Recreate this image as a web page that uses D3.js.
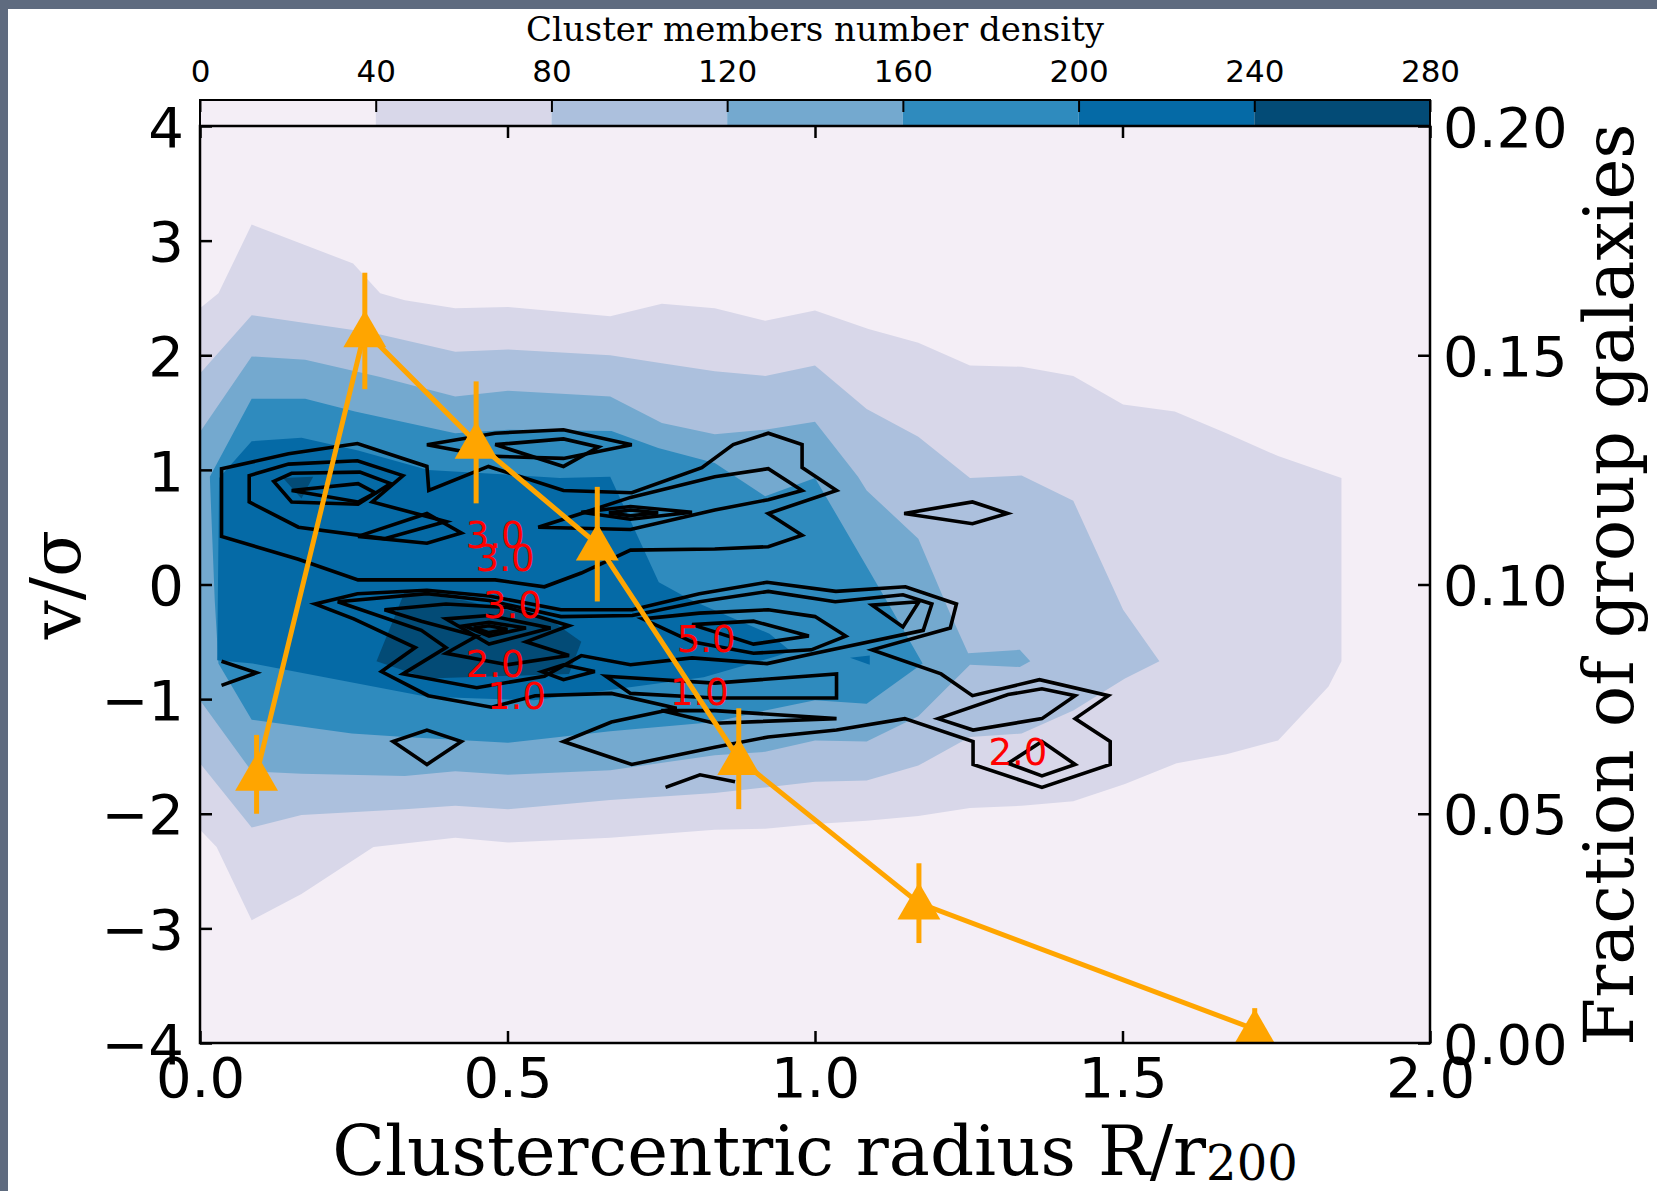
<!DOCTYPE html>
<html>
<head>
<meta charset="utf-8">
<script src="https://cdn.jsdelivr.net/npm/d3@7"></script>
<style>
  body { margin: 0; background: #fff; }
  svg { display: block; }
</style>
</head>
<body>
<div id="graf"></div>
<script>
// I. Datos
levels = [0, 40, 80, 120, 160, 200, 240, 280]
xTicks = [0, 0.5, 1, 1.5, 2]
yTicks = [-4, -3, -2, -1, 0, 1, 2, 3, 4]
fracTicks = [0, 0.05, 0.10, 0.15, 0.20]

// fraccion de galaxias de grupo (eje derecho)
radius   = [0.092, 0.268, 0.449, 0.646, 0.876, 1.169, 1.715]
fraction = [0.0586, 0.1553, 0.1310, 0.1088, 0.0620, 0.0305, 0.0030]
fracErr  = [0.0086, 0.0127, 0.0133, 0.0125, 0.0110, 0.0087, 0.0046]

// contornos rellenos (densidad de miembros), vertices en (R/r200, v/sigma)
fill40 = [[0,2.41],[0.03,2.54],[0.084,3.14],[0.249,2.80],[0.293,2.54],[0.333,2.48],[0.415,2.41],[0.501,2.42],[0.667,2.34],[0.751,2.45],[0.837,2.41],[0.919,2.30],[1.0,2.39],[1.087,2.23],[1.168,2.11],[1.252,1.91],[1.336,1.90],[1.42,1.82],[1.501,1.57],[1.585,1.51],[1.669,1.32],[1.753,1.12],[1.856,0.93],[1.856,-0.67],[1.835,-0.89],[1.753,-1.36],[1.669,-1.48],[1.588,-1.56],[1.504,-1.74],[1.42,-1.89],[1.336,-1.93],[1.252,-1.95],[1.168,-2.02],[1.084,-2.06],[1.0,-2.09],[0.919,-2.13],[0.837,-2.14],[0.667,-2.21],[0.501,-2.25],[0.415,-2.21],[0.282,-2.29],[0.165,-2.70],[0.084,-2.93],[0.027,-2.29],[0,-2.14]]
fill80 = [[0,1.84],[0.084,2.35],[0.249,2.22],[0.293,2.18],[0.415,2.03],[0.501,2.05],[0.667,2.0],[0.751,1.93],[0.837,1.86],[0.919,1.82],[1.0,1.91],[1.084,1.53],[1.168,1.29],[1.252,0.93],[1.336,0.95],[1.42,0.73],[1.501,-0.22],[1.56,-0.67],[1.504,-0.82],[1.42,-1.10],[1.336,-1.30],[1.252,-1.33],[1.168,-1.58],[1.084,-1.71],[1.0,-1.72],[0.919,-1.77],[0.837,-1.82],[0.667,-1.88],[0.501,-1.96],[0.415,-1.93],[0.333,-1.96],[0.165,-2.01],[0.084,-2.12],[0,-1.56]]
fill120 = [[0,1.33],[0.084,1.99],[0.171,1.96],[0.293,1.81],[0.415,1.64],[0.501,1.69],[0.667,1.64],[0.751,1.41],[0.837,1.31],[0.919,1.35],[1.0,1.42],[1.07,0.94],[1.084,0.82],[1.168,0.40],[1.217,-0.22],[1.249,-0.60],[1.333,-0.57],[1.35,-0.67],[1.333,-0.72],[1.252,-0.70],[1.168,-1.15],[1.084,-1.37],[1.0,-1.36],[0.919,-1.46],[0.837,-1.49],[0.667,-1.62],[0.501,-1.66],[0.415,-1.63],[0.333,-1.67],[0.165,-1.65],[0.084,-1.63],[0,-1.01]]
fill160 = [[0.016,0.94],[0.084,1.62],[0.171,1.62],[0.252,1.51],[0.415,1.32],[0.501,1.35],[0.669,1.34],[0.745,1.19],[0.837,1.06],[0.919,0.77],[1.0,0.93],[1.125,-0.22],[1.175,-0.69],[1.084,-1.04],[1.0,-1.01],[0.919,-1.10],[0.837,-1.20],[0.667,-1.28],[0.501,-1.38],[0.333,-1.33],[0.247,-1.30],[0.084,-1.18],[0.03,-0.69],[0.024,-0.14]]
fill200 = [[0.031,0.93],[0.084,1.25],[0.165,1.28],[0.257,1.17],[0.371,1.0],[0.585,0.93],[0.667,0.94],[0.746,0.02],[0.80,-0.14],[0.926,-0.43],[0.96,-0.58],[0.941,-0.62],[0.819,-0.81],[0.543,-1.01],[0.369,-0.98],[0.086,-0.69],[0.028,-0.66]]
fill200b = [[1.057,-0.64],[1.089,-0.62],[1.089,-0.70]]
fill240 = [[0.333,-0.06],[0.43,-0.14],[0.57,-0.31],[0.62,-0.50],[0.60,-0.78],[0.37,-0.82],[0.287,-0.67]]
fill240b = [[0.135,0.93],[0.184,0.94],[0.165,0.75]]

// contornos de linea (galaxias de grupo)
lineasCerradas = [
  // banda superior
  [[0.035,1.01],[0.144,1.14],[0.256,1.23],[0.369,1.03],[0.372,0.82],[0.469,1.03],[0.591,0.82],[0.702,0.80],[0.816,1.02],[0.867,1.22],[0.924,1.32],[0.979,1.22],[0.979,1.02],[1.035,0.82],[0.924,0.62],[0.979,0.43],[0.924,0.33],[0.837,0.31],[0.70,0.30],[0.62,0.10],[0.56,-0.02],[0.48,0.04],[0.257,0.04],[0.16,0.22],[0.035,0.42]],
  [[0.08,0.95],[0.144,1.05],[0.256,1.08],[0.33,0.95],[0.28,0.72],[0.40,0.55],[0.30,0.40],[0.16,0.50],[0.08,0.72]],
  [[0.12,0.90],[0.149,0.97],[0.26,0.98],[0.31,0.88],[0.257,0.70],[0.149,0.72]],
  [[0.149,0.82],[0.257,0.88],[0.285,0.80],[0.257,0.72]],
  [[0.257,0.42],[0.369,0.62],[0.425,0.45],[0.369,0.36]],
  [[0.369,1.22],[0.48,1.32],[0.591,1.35],[0.702,1.22],[0.591,1.10],[0.469,1.12]],
  [[0.48,1.22],[0.591,1.27],[0.648,1.20],[0.591,1.03]],
  [[0.70,0.76],[0.837,0.94],[0.924,1.01],[0.979,0.82],[0.924,0.74],[0.837,0.65],[0.70,0.48],[0.55,0.50],[0.62,0.62]],
  [[0.62,0.63],[0.70,0.68],[0.80,0.63],[0.70,0.57]],
  [[0.665,0.625],[0.70,0.65],[0.745,0.625],[0.70,0.60]],
  [[1.145,0.62],[1.256,0.72],[1.313,0.62],[1.256,0.53]],
  // banda central
  [[0.187,-0.17],[0.256,-0.08],[0.369,-0.05],[0.47,-0.10],[0.587,-0.22],[0.703,-0.22],[0.812,-0.08],[0.922,0.02],[1.034,-0.06],[1.147,-0.02],[1.230,-0.17],[1.220,-0.38],[1.093,-0.57],[1.205,-0.78],[1.256,-0.97],[1.365,-0.83],[1.477,-0.97],[1.423,-1.17],[1.48,-1.37],[1.48,-1.57],[1.369,-1.77],[1.257,-1.57],[1.257,-1.37],[1.146,-1.17],[1.035,-1.27],[0.924,-1.33],[0.837,-1.42],[0.702,-1.57],[0.591,-1.37],[0.669,-1.20],[0.775,-1.08],[0.669,-0.95],[0.545,-0.97],[0.474,-1.07],[0.371,-0.97],[0.295,-0.76],[0.35,-0.55],[0.25,-0.30]],
  [[0.224,-0.15],[0.369,-0.08],[0.47,-0.14],[0.587,-0.28],[0.703,-0.27],[0.812,-0.15],[0.924,-0.06],[1.033,-0.15],[1.143,-0.09],[1.19,-0.17],[1.176,-0.40],[1.0,-0.60],[0.922,-0.69],[0.80,-0.64],[0.70,-0.70],[0.62,-0.62],[0.56,-0.80],[0.45,-0.90],[0.33,-0.78],[0.40,-0.55],[0.36,-0.40]],
  [[0.30,-0.22],[0.40,-0.17],[0.50,-0.20],[0.60,-0.36],[0.53,-0.50],[0.60,-0.62],[0.50,-0.70],[0.40,-0.60],[0.45,-0.45],[0.36,-0.32]],
  [[0.40,-0.30],[0.47,-0.27],[0.57,-0.38],[0.47,-0.52]],
  [[0.43,-0.36],[0.47,-0.33],[0.53,-0.38],[0.47,-0.45]],
  [[0.445,-0.38],[0.47,-0.36],[0.50,-0.39],[0.47,-0.42]],
  [[0.72,-0.30],[0.812,-0.25],[0.924,-0.22],[1.0,-0.28],[1.05,-0.45],[0.994,-0.57],[0.90,-0.60],[0.80,-0.50]],
  [[0.80,-0.35],[0.90,-0.32],[0.99,-0.45],[0.90,-0.52]],
  [[1.093,-0.18],[1.169,-0.15],[1.143,-0.37]],
  [[0.556,-0.76],[0.591,-0.70],[0.642,-0.76],[0.591,-0.83]],
  // banda inferior
  [[0.66,-0.80],[0.837,-0.86],[1.035,-0.78],[1.035,-0.99],[0.837,-0.99],[0.70,-0.95]],
  [[0.75,-1.10],[0.837,-1.10],[1.035,-1.17],[0.837,-1.21]],
  [[1.20,-1.17],[1.257,-1.27],[1.369,-1.17],[1.423,-0.97],[1.369,-0.91],[1.314,-0.96]],
  [[1.369,-1.37],[1.423,-1.57],[1.369,-1.67],[1.314,-1.56]],
  [[0.314,-1.37],[0.369,-1.27],[0.425,-1.37],[0.369,-1.57]]
]
lineasAbiertas = [
  [[0.035,-0.67],[0.092,-0.77],[0.035,-0.88]],
  [[0.757,-1.77],[0.813,-1.66],[0.87,-1.72]]
]

// etiquetas de los contornos
etiqTexto = ['3.0', '3.0', '3.0', '2.0', '1.0', '5.0', '1.0', '2.0']
etiqX     = [0.480, 0.496, 0.508, 0.480, 0.515, 0.823, 0.812, 1.330]
etiqY     = [0.43, 0.23, -0.18, -0.70, -0.98, -0.48, -0.94, -1.47]

// II. Configuracion
ancho_total = 1657
alto_total = 1191
box = { left: 200, right: 1430, top: 126, bottom: 1043 }

svg = d3.select('#graf').append('svg')
        .attr('width', ancho_total)
        .attr('height', alto_total)

svg.append('rect').attr('width', ancho_total).attr('height', alto_total).attr('fill', '#5f6b7f')
svg.append('rect').attr('x', 8).attr('y', 9).attr('width', ancho_total).attr('height', alto_total).attr('fill', '#fff')

x = d3.scaleLinear().domain([0, 2]).range([box.left, box.right])
y = d3.scaleLinear().domain([-4, 4]).range([box.bottom, box.top])
yR = d3.scaleLinear().domain([0, 0.2]).range([box.bottom, box.top])
xc = d3.scaleLinear().domain([0, 280]).range([box.left, box.right])

// colores PuBu en el punto medio de cada capa
pubu = ['#fff7fb', '#ece7f2', '#d0d1e6', '#a6bddb', '#74a9cf', '#3690c0', '#0570b0', '#045a8d', '#023858']
pubuScale = d3.scaleLinear().domain(d3.range(9).map(i => i / 8)).range(pubu)
capaColor = d3.range(7).map(i => pubuScale((levels[i] + levels[i + 1]) / 2 / 280))

svg.append('clipPath').attr('id', 'clip')
   .append('rect')
   .attr('x', box.left).attr('y', box.top)
   .attr('width', box.right - box.left).attr('height', box.bottom - box.top)

g = svg.append('g').attr('clip-path', 'url(#clip)')

g.append('rect')
 .attr('x', box.left).attr('y', box.top)
 .attr('width', box.right - box.left).attr('height', box.bottom - box.top)
 .attr('fill', capaColor[0])

poly = d3.line().x(d => x(d[0])).y(d => y(d[1])).curve(d3.curveLinearClosed)
open = d3.line().x(d => x(d[0])).y(d => y(d[1]))

rellenos = [[fill40, 1], [fill80, 2], [fill120, 3], [fill160, 4], [fill200, 5], [fill200b, 5], [fill240, 6], [fill240b, 6]]
g.selectAll('path.capa')
 .data(rellenos)
 .enter().append('path')
   .attr('class', 'capa')
   .attr('d', d => poly(d[0]))
   .attr('fill', d => capaColor[d[1]])

g.selectAll('path.cerrada')
 .data(lineasCerradas)
 .enter().append('path')
   .attr('class', 'cerrada')
   .attr('d', poly)
   .attr('fill', 'none')
   .attr('stroke', '#000')
   .attr('stroke-width', 3.6)

g.selectAll('path.abierta')
 .data(lineasAbiertas)
 .enter().append('path')
   .attr('class', 'abierta')
   .attr('d', open)
   .attr('fill', 'none')
   .attr('stroke', '#000')
   .attr('stroke-width', 3.6)

g.selectAll('text.etiq')
 .data(etiqTexto)
 .enter().append('text')
   .attr('class', 'etiq')
   .attr('x', (d, i) => x(etiqX[i]))
   .attr('y', (d, i) => y(etiqY[i]))
   .attr('text-anchor', 'middle')
   .attr('dominant-baseline', 'central')
   .style('font-family', 'DejaVu Sans')
   .style('font-size', '37px')
   .attr('fill', '#ff0000')
   .text(d => d)

// serie naranja
naranja = '#ffa500'
g.append('path')
 .attr('d', d3.line().x((d, i) => x(radius[i])).y(d => yR(d))(fraction))
 .attr('fill', 'none')
 .attr('stroke', naranja)
 .attr('stroke-width', 5)

g.selectAll('line.err')
 .data(fraction)
 .enter().append('line')
   .attr('class', 'err')
   .attr('x1', (d, i) => x(radius[i]))
   .attr('x2', (d, i) => x(radius[i]))
   .attr('y1', (d, i) => yR(d - fracErr[i]))
   .attr('y2', (d, i) => yR(d + fracErr[i]))
   .attr('stroke', naranja)
   .attr('stroke-width', 5)

tri = d3.symbol().type(d3.symbolTriangle).size(40 * 40 * Math.sqrt(3) / 4 * 1.15)
g.selectAll('path.tri')
 .data(fraction)
 .enter().append('path')
   .attr('class', 'tri')
   .attr('transform', (d, i) => `translate(${x(radius[i])}, ${yR(d) + 4})`)
   .attr('d', tri)
   .attr('fill', naranja)

// barra de color
cbTop = 100
svg.selectAll('rect.cb')
   .data(capaColor)
   .enter().append('rect')
     .attr('class', 'cb')
     .attr('x', (d, i) => xc(levels[i]))
     .attr('width', (d, i) => xc(levels[i + 1]) - xc(levels[i]))
     .attr('y', cbTop)
     .attr('height', box.top - cbTop)
     .attr('fill', d => d)

cbAxis = svg.append('g')
            .attr('transform', `translate(0, ${cbTop})`)
            .call(d3.axisTop(xc).tickValues(levels).tickSize(-12).tickPadding(18))
cbAxis.select('.domain').remove()
cbAxis.selectAll('line').attr('stroke-width', 2)
cbAxis.selectAll('text').style('font-family', 'DejaVu Sans').style('font-size', '31px').attr('fill', '#000')

svg.append('rect')
   .attr('x', box.left).attr('y', cbTop)
   .attr('width', box.right - box.left).attr('height', box.top - cbTop)
   .attr('fill', 'none').attr('stroke', '#000').attr('stroke-width', 2)

svg.append('text')
   .attr('x', (box.left + box.right) / 2)
   .attr('y', 41)
   .attr('text-anchor', 'middle')
   .style('font-family', 'DejaVu Serif')
   .style('font-size', '34px')
   .text('Cluster members number density')

// ejes
function estilo(sel, size) {
  sel.select('.domain').remove()
  sel.selectAll('line').attr('stroke-width', 2.5)
  sel.selectAll('text').style('font-family', 'DejaVu Sans').style('font-size', size).attr('fill', '#000')
}

xAxisGroup = svg.append('g').attr('transform', `translate(0, ${box.bottom})`)
                .call(d3.axisBottom(x).tickValues(xTicks).tickFormat(d3.format('.1f')).tickSize(-12).tickPadding(14))
estilo(xAxisGroup, '56px')

topGroup = svg.append('g').attr('transform', `translate(0, ${box.top})`)
              .call(d3.axisTop(x).tickValues(xTicks).tickFormat('').tickSize(-12))
estilo(topGroup, '56px')

yAxisGroup = svg.append('g').attr('transform', `translate(${box.left}, 0)`)
                .call(d3.axisLeft(y).tickValues(yTicks).tickFormat(d3.format('d')).tickSize(-12).tickPadding(16))
estilo(yAxisGroup, '56px')
yAxisGroup.selectAll('text').attr('dy', '0.36em')

yRGroup = svg.append('g').attr('transform', `translate(${box.right}, 0)`)
             .call(d3.axisRight(yR).tickValues(fracTicks).tickFormat(d3.format('.2f')).tickSize(-12).tickPadding(13))
estilo(yRGroup, '56px')
yRGroup.selectAll('text').attr('dy', '0.36em')

svg.append('rect')
   .attr('x', box.left).attr('y', box.top)
   .attr('width', box.right - box.left).attr('height', box.bottom - box.top)
   .attr('fill', 'none').attr('stroke', '#000').attr('stroke-width', 2.5)

// titulos de ejes
xl = svg.append('text')
        .attr('x', (box.left + box.right) / 2)
        .attr('y', 1175)
        .attr('text-anchor', 'middle')
        .style('font-family', 'DejaVu Serif')
        .style('font-size', '69px')
xl.append('tspan').text('Clustercentric radius R/r')
xl.append('tspan').attr('dy', 5).style('font-size', '48px').text('200')

svg.append('text')
   .attr('transform', `translate(80, ${(box.top + box.bottom) / 2}) rotate(-90)`)
   .attr('text-anchor', 'middle')
   .style('font-family', 'DejaVu Serif')
   .style('font-size', '69px')
   .text('v/σ')

svg.append('text')
   .attr('transform', `translate(1633, ${(box.top + box.bottom) / 2}) rotate(-90)`)
   .attr('text-anchor', 'middle')
   .style('font-family', 'DejaVu Serif')
   .style('font-size', '69px')
   .text('Fraction of group galaxies')
</script>
</body>
</html>
